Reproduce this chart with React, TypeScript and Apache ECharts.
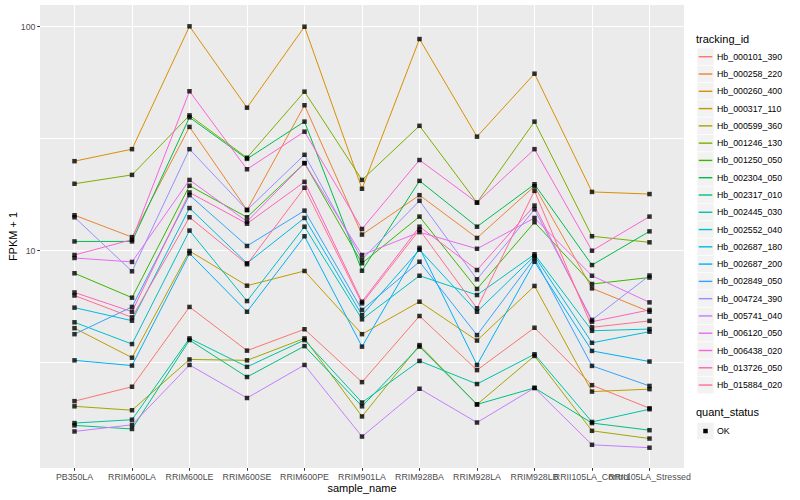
import React, { useEffect, useRef } from "react";
import * as echarts from "echarts";

const sampleNames = [
  "PB350LA", "RRIM600LA", "RRIM600LE", "RRIM600SE", "RRIM600PE", "RRIM901LA",
  "RRIM928BA", "RRIM928LA", "RRIM928LB", "RRII105LA_Control", "RRII105LA_Stressed",
];

const trackingIds = [
  "Hb_000101_390", "Hb_000258_220", "Hb_000260_400", "Hb_000317_110", "Hb_000599_360",
  "Hb_001246_130", "Hb_001250_050", "Hb_002304_050", "Hb_002317_010", "Hb_002445_030",
  "Hb_002552_040", "Hb_002687_180", "Hb_002687_200", "Hb_002849_050", "Hb_004724_390",
  "Hb_005741_040", "Hb_006120_050", "Hb_006438_020", "Hb_013726_050", "Hb_015884_020",
];

const seriesColors = [
  "#F8766D", "#EA8331", "#D89000", "#C09B00", "#A3A500",
  "#7CAE00", "#39B600", "#00BB4E", "#00BF7D", "#00C1A3",
  "#00BFC4", "#00BAE0", "#00B0F6", "#35A2FF", "#9590FF",
  "#C77CFF", "#E76BF3", "#FA62DB", "#FF62BC", "#FF6C91",
];

// FPKM + 1, one value per sample_name
const hb000101_390 = [2.13, 2.47, 5.61, 3.58, 4.46, 2.59, 5.11, 2.93, 4.53, 2.51, 1.98];
const hb000258_220 = [14.4, 11.5, 35.7, 15.2, 44.6, 11.8, 17.7, 11.4, 19.4, 6.79, 5.34];
const hb000260_400 = [25.1, 28.4, 100.4, 43.5, 100, 18.9, 88.1, 32.3, 61.7, 18.3, 17.9];
const hb000317_110 = [4.51, 3.33, 9.97, 6.98, 8.12, 4.24, 5.92, 3.97, 6.96, 2.35, 2.41];
const hb000599_360 = [2.02, 1.94, 3.27, 3.24, 4.06, 1.82, 3.79, 2.06, 3.39, 1.57, 1.45];
const hb001246_130 = [19.9, 21.8, 40.2, 26.0, 51.3, 20.7, 36.1, 16.4, 37.7, 11.6, 10.9];
const hb001250_050 = [7.93, 6.17, 19.5, 14.1, 24.6, 8.79, 14.2, 6.75, 13.4, 7.1, 7.59];
const hb002304_050 = [11.0, 11.0, 39.4, 25.7, 37.7, 8.14, 20.5, 12.8, 19.8, 8.63, 12.2];
const hb002317_010 = [1.66, 1.6, 3.99, 2.73, 3.75, 2.02, 3.73, 2.06, 2.44, 1.7, 1.58];
const hb002445_030 = [1.7, 1.76, 4.06, 3.03, 3.99, 2.1, 3.22, 2.54, 3.45, 1.72, 1.96];
const hb002552_040 = [4.79, 3.83, 12.3, 5.96, 12.8, 4.94, 7.73, 6.34, 9.64, 4.39, 4.47];
const hb002687_180 = [5.57, 4.87, 15.5, 8.79, 14.0, 5.16, 10.1, 5.34, 9.47, 3.88, 4.35];
const hb002687_200 = [3.24, 3.07, 9.73, 5.34, 11.6, 3.73, 10.3, 3.09, 8.93, 3.57, 3.2];
const hb002849_050 = [4.24, 5.61, 17.7, 10.5, 15.1, 5.44, 8.93, 4.2, 9.25, 3.06, 2.49];
const hb004724_390 = [14.1, 8.09, 28.4, 15.2, 26.8, 9.14, 16.7, 7.45, 15.3, 4.91, 7.75];
const hb005741_040 = [1.56, 1.67, 3.09, 2.2, 3.09, 1.48, 2.42, 1.71, 2.44, 1.36, 1.32];
const hb006120_050 = [9.28, 8.91, 20.7, 13.5, 24.6, 9.57, 12.1, 10.2, 14.0, 7.73, 5.88];
const hb006438_020 = [9.57, 11.2, 51.5, 23.1, 34.0, 12.5, 25.4, 16.4, 28.4, 10.0, 14.2];
const hb013726_050 = [6.51, 5.34, 18.2, 13.2, 20.3, 5.92, 12.8, 8.2, 15.9, 4.82, 5.44];
const hb015884_020 = [6.31, 5.04, 14.1, 8.7, 19.1, 5.82, 12.4, 5.53, 18.5, 4.55, 4.86];

const seriesValues = [
  hb000101_390, hb000258_220, hb000260_400, hb000317_110, hb000599_360,
  hb001246_130, hb001250_050, hb002304_050, hb002317_010, hb002445_030,
  hb002552_040, hb002687_180, hb002687_200, hb002849_050, hb004724_390,
  hb005741_040, hb006120_050, hb006438_020, hb013726_050, hb015884_020,
];

const yMajorBreaks = [10, 100];
const yMinorBreaks = [3.1623, 31.623];
const quantStatus = ["OK"];

const FONT = "Liberation Sans, Arial, Helvetica, sans-serif";

function buildOption() {
  const log = (v: number) => Math.log10(v);
  const yMin = 0.0299;
  const yMax = 2.0969;
  const catIdx = sampleNames.map((_, i) => i);
  const evenIdx = catIdx.filter((i) => i % 2 === 0);
  const oddIdx = catIdx.filter((i) => i % 2 === 1);

  const lineSeries = trackingIds.map((id, k) => ({
    type: "line",
    name: id,
    data: seriesValues[k].map((v, i) => [i, log(v)]),
    showSymbol: false,
    symbol: "none",
    silent: true,
    lineStyle: { color: seriesColors[k], width: 1 },
    itemStyle: { color: seriesColors[k] },
    z: 2,
  }));

  const pts: number[][] = [];
  seriesValues.forEach((arr) => arr.forEach((v, i) => pts.push([i, log(v)])));

  const pointSeries = {
    type: "scatter",
    name: quantStatus[0],
    data: pts,
    symbol: "rect",
    symbolSize: 4.5,
    silent: true,
    itemStyle: { color: "#000000" },
    z: 3,
    markLine: {
      silent: true,
      z: 1,
      symbol: ["none", "none"],
      label: { show: false },
      lineStyle: { color: "#FFFFFF", width: 1, type: "solid", opacity: 1 },
      emphasis: { disabled: true },
      data: yMinorBreaks.map((b) => ({ yAxis: log(b) })),
    },
  };

  // legend drawn as graphic, built from the arrays above
  const legendX = 697;
  const keyW = 17;
  const keyH = 17.28;
  const firstKeyTop = 48.1;
  const graphics: any[] = [
    {
      type: "text",
      left: 696,
      top: 33,
      style: { text: "tracking_id", font: `11px ${FONT}`, fill: "#000" },
    },
  ];
  trackingIds.forEach((id, k) => {
    const top = firstKeyTop + k * keyH;
    const cy = top + keyH / 2;
    graphics.push({
      type: "rect",
      shape: { x: legendX, y: top, width: keyW, height: keyH },
      style: { fill: "#F2F2F2", stroke: "#FFFFFF", lineWidth: 0.6 },
    });
    graphics.push({
      type: "line",
      shape: { x1: legendX + 1.7, y1: cy, x2: legendX + keyW - 1.7, y2: cy },
      style: { stroke: seriesColors[k], lineWidth: 1.4 },
    });
    graphics.push({
      type: "text",
      x: 717,
      y: cy,
      style: {
        text: id,
        font: `8.8px ${FONT}`,
        fill: "#000",
        verticalAlign: "middle",
      },
    });
  });
  const qsTitleTop = 406;
  const qsKeyTop = 422.4;
  graphics.push({
    type: "text",
    left: 696,
    top: qsTitleTop,
    style: { text: "quant_status", font: `11px ${FONT}`, fill: "#000" },
  });
  quantStatus.forEach((s, k) => {
    const top = qsKeyTop + k * keyH;
    const cy = top + keyH / 2;
    graphics.push({
      type: "rect",
      shape: { x: legendX, y: top, width: keyW, height: keyH },
      style: { fill: "#F2F2F2", stroke: "#FFFFFF", lineWidth: 0.6 },
    });
    graphics.push({
      type: "rect",
      shape: { x: legendX + keyW / 2 - 2.25, y: cy - 2.25, width: 4.5, height: 4.5 },
      style: { fill: "#000" },
    });
    graphics.push({
      type: "text",
      x: 717,
      y: cy,
      style: {
        text: s,
        font: `8.8px ${FONT}`,
        fill: "#000",
        verticalAlign: "middle",
      },
    });
  });

  const xLabelBase = {
    formatter: (v: number) => sampleNames[Math.round(v)] ?? "",
    fontSize: 8.8,
    color: "#4D4D4D",
    margin: 4.5,
    fontFamily: FONT,
    hideOverlap: false,
    showMinLabel: true,
    showMaxLabel: true,
  };

  return {
    animation: false,
    backgroundColor: "#FFFFFF",
    textStyle: { fontFamily: FONT },
    grid: {
      left: 40,
      top: 5,
      right: 116,
      bottom: 32,
      show: true,
      backgroundColor: "#EBEBEB",
      borderWidth: 0,
      containLabel: false,
      outerBoundsMode: "none",
    },
    xAxis: [
      {
        type: "value",
        min: -0.6,
        max: 10.6,
        position: "bottom",
        name: "sample_name",
        nameLocation: "middle",
        nameGap: 14.5,
        nameMoveOverlap: false,
        nameTextStyle: { fontSize: 11, color: "#000", fontFamily: FONT },
        axisLine: { show: false, onZero: false },
        axisTick: {
          show: true,
          customValues: catIdx,
          length: 2.75,
          lineStyle: { color: "#333333", width: 1 },
        },
        axisLabel: { ...xLabelBase, customValues: evenIdx },
        splitLine: { show: true, lineStyle: { color: "#FFFFFF", width: 1.1 } },
      },
      {
        type: "value",
        min: -0.6,
        max: 10.6,
        position: "bottom",
        offset: 0,
        axisLine: { show: false, onZero: false },
        axisTick: { show: false, customValues: oddIdx },
        axisLabel: { ...xLabelBase, customValues: oddIdx },
        splitLine: { show: false },
      },
    ],
    yAxis: {
      type: "value",
      min: yMin,
      max: yMax,
      position: "left",
      name: "FPKM + 1",
      nameLocation: "middle",
      nameGap: 22,
      nameMoveOverlap: false,
      nameTextStyle: { fontSize: 11, color: "#000", fontFamily: FONT },
      axisLine: { show: false, onZero: false },
      axisTick: {
        show: true,
        customValues: yMajorBreaks.map(log),
        length: 2.75,
        lineStyle: { color: "#333333", width: 1 },
      },
      axisLabel: {
        customValues: yMajorBreaks.map(log),
        formatter: (v: number) => String(Math.round(Math.pow(10, v))),
        fontSize: 8.8,
        color: "#4D4D4D",
        margin: 4.5,
        fontFamily: FONT,
        showMinLabel: true,
        showMaxLabel: true,
      },
      splitLine: { show: true, lineStyle: { color: "#FFFFFF", width: 1.1 } },
    },
    series: [...lineSeries, pointSeries],
    graphic: graphics,
  };
}

export default function App() {
  const ref = useRef<HTMLDivElement>(null);
  useEffect(() => {
    document.body.style.margin = "0";
    const chart = echarts.init(ref.current as HTMLDivElement, null, { renderer: "svg" });
    chart.setOption(buildOption() as any);
    return () => chart.dispose();
  }, []);
  return <div ref={ref} style={{ width: 800, height: 500 }} />;
}
